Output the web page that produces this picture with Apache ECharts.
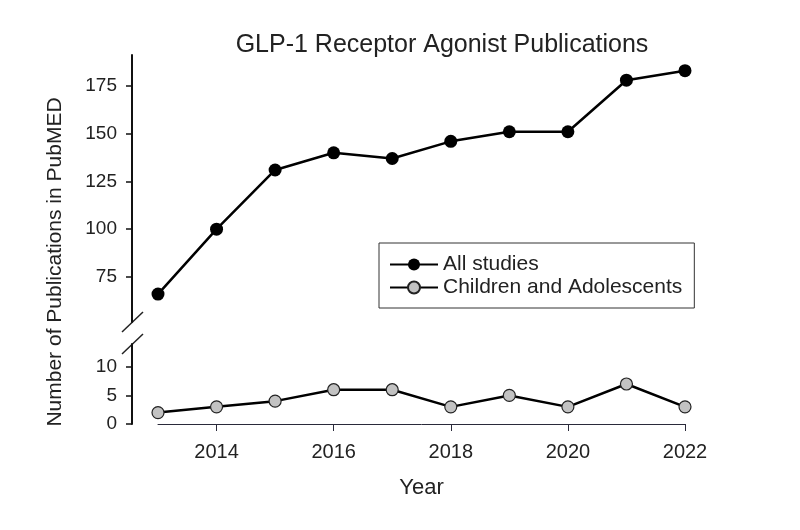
<!DOCTYPE html>
<html>
<head>
<meta charset="utf-8">
<script src="https://cdn.jsdelivr.net/npm/echarts@6/dist/echarts.min.js"></script>
<style>
html,body{margin:0;padding:0;background:#fff;}
#chart{width:800px;height:530px;}
</style>
</head>
<body>
<div id="chart"></div>
<script>
// ---- data ----
const years = [2013, 2014, 2015, 2016, 2017, 2018, 2019, 2020, 2021, 2022];
const allStudies = [66, 100, 131, 140, 137, 146, 151, 151, 178, 183];
const childrenAdolescents = [2, 3, 4, 6, 6, 3, 5, 3, 7, 3];
const xTickLabels = [2014, 2016, 2018, 2020, 2022];
const yTicksUpper = [75, 100, 125, 150, 175];
const yTicksLower = [0, 5, 10];
const seriesNames = ['All studies', 'Children and Adolescents'];

const FONT = 'Liberation Sans, Arial, sans-serif';
const TXT = '#222';

const chart = echarts.init(document.getElementById('chart'));

const pairs = (vals) => years.map((y, i) => [y, vals[i]]);

const yAxisCommon = {
  type: 'value',
  position: 'left',
  offset: 26,
  splitLine: { show: false },
  axisLine: { show: true, lineStyle: { color: '#111', width: 2 } },
  axisTick: { show: true, inside: false, length: 6, lineStyle: { color: '#111', width: 1.5 } },
  axisLabel: { color: TXT, fontFamily: FONT, fontSize: 19, margin: 15 }
};

chart.setOption({
  backgroundColor: '#fff',
  animation: false,
  title: {
    text: 'GLP-1 Receptor Agonist Publications',
    left: 437,
    textAlign: 'center',
    top: 28,
    textStyle: { fontFamily: FONT, fontSize: 25, fontWeight: 'normal', color: TXT }
  },
  grid: [
    { left: 158, right: 115, top: 55, height: 267 },
    { left: 158, right: 115, top: 344, height: 80 }
  ],
  xAxis: [
    {
      gridIndex: 0, type: 'value', min: 2013, max: 2022, show: false
    },
    {
      gridIndex: 1, type: 'value', min: 2013, max: 2022,
      splitLine: { show: false },
      axisLine: { show: true, onZero: false, lineStyle: { color: '#2a2a3a', width: 1 } },
      axisTick: { show: true, length: 7, customValues: xTickLabels, lineStyle: { color: '#2a2a3a', width: 1 } },
      axisLabel: { customValues: xTickLabels, formatter: v => String(v), color: TXT, fontFamily: FONT, fontSize: 20, margin: 18 },
      name: 'Year',
      nameLocation: 'middle',
      nameGap: 53,
      nameTextStyle: { fontFamily: FONT, fontSize: 22, color: TXT }
    }
  ],
  yAxis: [
    Object.assign({}, yAxisCommon, {
      gridIndex: 0, min: 51.4, max: 191.2,
      axisTick: Object.assign({}, yAxisCommon.axisTick, { customValues: yTicksUpper }),
      axisLabel: Object.assign({}, yAxisCommon.axisLabel, { customValues: yTicksUpper })
    }),
    Object.assign({}, yAxisCommon, {
      gridIndex: 1, min: 0, max: 14,
      axisTick: Object.assign({}, yAxisCommon.axisTick, { customValues: yTicksLower }),
      axisLabel: Object.assign({}, yAxisCommon.axisLabel, { customValues: yTicksLower })
    })
  ],
  legend: {
    orient: 'vertical',
    left: 379,
    top: 243,
    padding: [11, 12, 10, 10],
    borderColor: '#333',
    borderWidth: 1,
    backgroundColor: '#fff',
    itemWidth: 48,
    itemHeight: 15,
    itemGap: 2,
    textStyle: { fontFamily: FONT, fontSize: 21, color: TXT, lineHeight: 21 },
    data: seriesNames
  },
  graphic: [
    {
      type: 'text', x: 55, y: 262, rotation: Math.PI / 2,
      style: { text: 'Number of Publications in PubMED', font: '21px ' + FONT, fill: TXT, textAlign: 'center', textVerticalAlign: 'middle' }
    },
    { type: 'line', shape: { x1: 122, y1: 332, x2: 143, y2: 312 }, style: { stroke: '#222', lineWidth: 1.5 } },
    { type: 'line', shape: { x1: 122, y1: 354, x2: 143, y2: 334 }, style: { stroke: '#222', lineWidth: 1.5 } }
  ],
  series: [
    {
      name: seriesNames[0], type: 'line', xAxisIndex: 0, yAxisIndex: 0,
      data: pairs(allStudies),
      symbol: 'circle', symbolSize: 13,
      itemStyle: { color: '#000' },
      lineStyle: { color: '#000', width: 2.5 }
    },
    {
      name: seriesNames[1], type: 'line', xAxisIndex: 1, yAxisIndex: 1,
      data: pairs(childrenAdolescents),
      symbol: 'circle', symbolSize: 12,
      itemStyle: { color: '#c2c2c2', borderColor: '#222', borderWidth: 1.2 },
      lineStyle: { color: '#000', width: 2.5 }
    }
  ]
});
</script>
</body>
</html>
